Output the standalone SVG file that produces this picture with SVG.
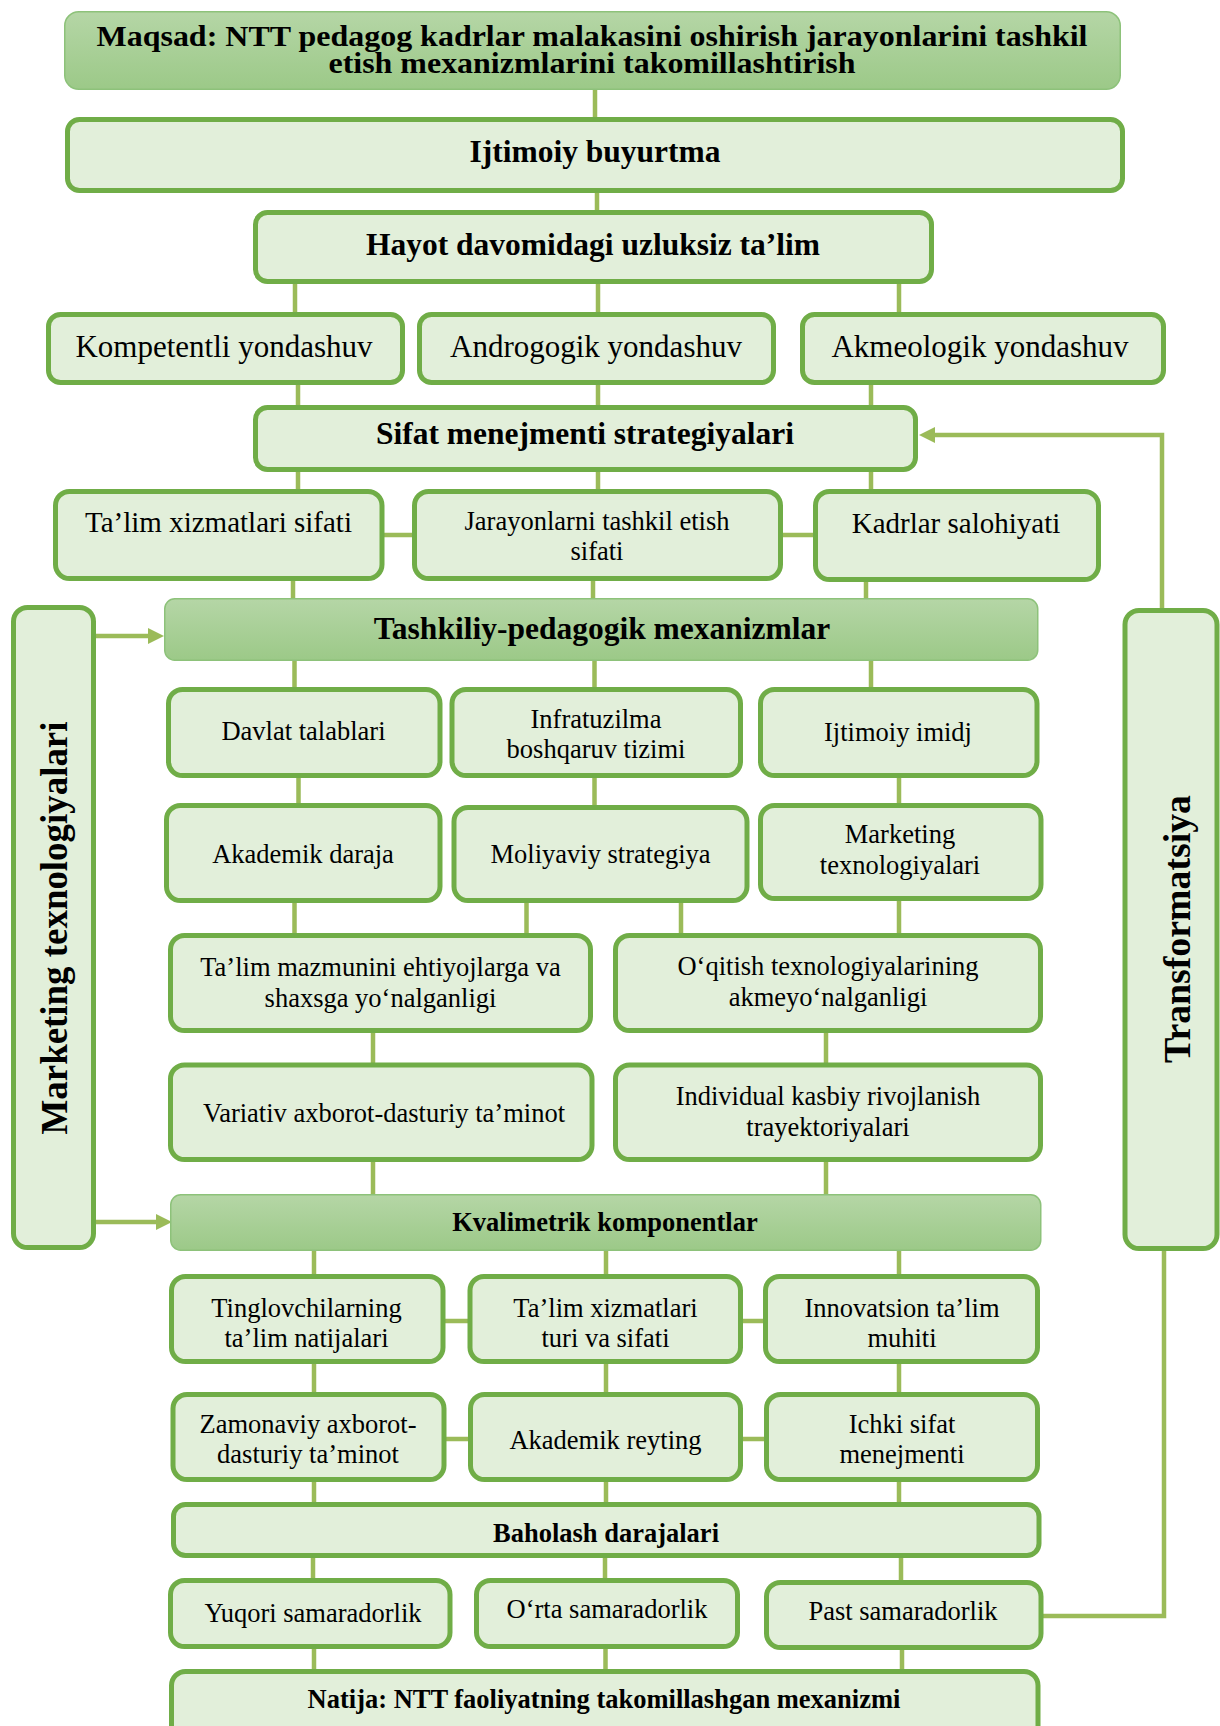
<svg xmlns="http://www.w3.org/2000/svg" width="1220" height="1726" viewBox="0 0 1220 1726">
<defs>
<linearGradient id="gr" x1="0" y1="0" x2="0" y2="1">
<stop offset="0" stop-color="#b5d6a6"/>
<stop offset="1" stop-color="#9cc988"/>
</linearGradient>
<marker id="ah" markerWidth="16" markerHeight="16" refX="10" refY="8" orient="auto" markerUnits="userSpaceOnUse">
<path d="M0,0 L16,8 L0,16 z" fill="#9bbb59"/>
</marker>
<style>
.b{fill:#e2efda;stroke:#70ad47;stroke-width:5}
.g{fill:url(#gr);stroke:#8dc27a;stroke-width:1.5}
.c{stroke:#9bbb59;stroke-width:4.5;fill:none}
text{font-family:"Liberation Serif","Times New Roman",serif;fill:#000;text-anchor:middle}
.tt{font-weight:bold;font-size:30px}
.tb{font-weight:bold;font-size:31.5px}
.tm{font-weight:bold;font-size:26.5px}
.r31{font-size:31px}
.r29{font-size:29px}
.r{font-size:26.5px}
.v{font-weight:bold;font-size:37px}
</style>
</defs>
<g id="connectors">
<path class="c" d="M595,90V117M597,193V210M295,284V312M598,284V312M899,284V312M298,385V405M598,385V405M871,385V405M298,472V489M598,472V489M871,472V489M293,581V598M593,581V598M866,581V598M294.5,661V687M594.5,661V687M871,661V687M298.5,778V803M594.5,778V805M899,778V803M294.5,903V933M526.5,903V933M681,903V933M899,901V933M373,1033V1063M826,1033V1063M373,1162V1194M826,1162V1194M314,1251V1274M606,1251V1274M899,1251V1274M314,1364V1392M606,1364V1392M899,1364V1392M314,1482V1502M606,1482V1502M899,1482V1502M313,1558V1578M605,1558V1578M901,1558V1580M314,1649V1669M605.5,1649V1669M902,1650V1669"/>
<path class="c" d="M384,535H412M783,535H813M445,1321H468M743,1321H763M446,1439H468M743,1439H764"/>
<path class="c" d="M1162,608V435H925" marker-end="url(#ah)"/>
<path class="c" d="M1164,1251V1616H1043"/>
<path class="c" d="M96,636H158" marker-end="url(#ah)"/>
<path class="c" d="M96,1222H166" marker-end="url(#ah)"/>
</g>
<g id="n1"><rect class="g" x="64.75" y="11.75" width="1055.5" height="77.5" rx="14"/>
<text class="tt" x="592" y="46" textLength="991" lengthAdjust="spacingAndGlyphs">Maqsad: NTT pedagog kadrlar malakasini oshirish jarayonlarini tashkil</text>
<text class="tt" x="592" y="73" textLength="527" lengthAdjust="spacingAndGlyphs">etish mexanizmlarini takomillashtirish</text></g>
<g id="n2"><rect class="b" x="67.5" y="119.5" width="1055" height="71" rx="12"/><text class="tb" x="595" y="162">Ijtimoiy buyurtma</text></g>
<g id="n3"><rect class="b" x="255.5" y="212.5" width="676" height="69" rx="12"/><text class="tb" x="593" y="255">Hayot davomidagi uzluksiz ta’lim</text></g>
<g id="n4a"><rect class="b" x="48.5" y="314.5" width="354" height="68" rx="12"/><text class="r31" x="224" y="357">Kompetentli yondashuv</text></g>
<g id="n4b"><rect class="b" x="419.5" y="314.5" width="354" height="68" rx="12"/><text class="r31" x="596" y="357">Androgogik yondashuv</text></g>
<g id="n4c"><rect class="b" x="802.5" y="314.5" width="361" height="68" rx="12"/><text class="r31" x="980" y="357">Akmeologik yondashuv</text></g>
<g id="n5"><rect class="b" x="255.5" y="407.5" width="660" height="62" rx="12"/><text class="tb" x="585" y="444">Sifat menejmenti strategiyalari</text></g>
<g id="n6a"><rect class="b" x="55.5" y="491.5" width="326.5" height="87" rx="14"/><text class="r29" x="218.5" y="532">Ta’lim xizmatlari sifati</text></g>
<g id="n6b"><rect class="b" x="414.5" y="491.5" width="366" height="87" rx="14"/><text class="r" x="597" y="530">Jarayonlarni tashkil etish</text><text class="r" x="597" y="560">sifati</text></g>
<g id="n6c"><rect class="b" x="815.5" y="491.5" width="283" height="88" rx="14"/><text class="r29" x="956" y="533">Kadrlar salohiyati</text></g>
<g id="n7"><rect class="g" x="164.75" y="598.75" width="873" height="61.5" rx="10"/><text class="tb" x="602" y="639">Tashkiliy-pedagogik mexanizmlar</text></g>
<g id="nL"><rect class="b" x="13.5" y="607.5" width="80" height="640" rx="14"/><text class="v" transform="translate(67,928) rotate(-90)" x="0" y="0" textLength="413" lengthAdjust="spacingAndGlyphs">Marketing texnologiyalari</text></g>
<g id="nR"><rect class="b" x="1125" y="610.5" width="92" height="638" rx="14"/><text class="v" transform="translate(1190,929) rotate(-90)" x="0" y="0" textLength="268" lengthAdjust="spacingAndGlyphs">Transformatsiya</text></g>
<g id="n8a"><rect class="b" x="168.5" y="689.5" width="271.5" height="86" rx="14"/><text class="r" x="303.5" y="740">Davlat talablari</text></g>
<g id="n8b"><rect class="b" x="452" y="689.5" width="288.5" height="86" rx="14"/><text class="r" x="596" y="728">Infratuzilma</text><text class="r" x="596" y="758">boshqaruv tizimi</text></g>
<g id="n8c"><rect class="b" x="760.5" y="689.5" width="276.5" height="86" rx="14"/><text class="r" x="898" y="741">Ijtimoiy imidj</text></g>
<g id="n9a"><rect class="b" x="166.5" y="805.5" width="273.5" height="95" rx="14"/><text class="r" x="303" y="863">Akademik daraja</text></g>
<g id="n9b"><rect class="b" x="454" y="807.5" width="293" height="93" rx="14"/><text class="r" x="600.5" y="863">Moliyaviy strategiya</text></g>
<g id="n9c"><rect class="b" x="760.5" y="805.5" width="280.5" height="93" rx="14"/><text class="r" x="900" y="843">Marketing</text><text class="r" x="900" y="874">texnologiyalari</text></g>
<g id="n10a"><rect class="b" x="170.5" y="935.5" width="420" height="95" rx="14"/><text class="r" x="380.5" y="976">Ta’lim mazmunini ehtiyojlarga va</text><text class="r" x="380.5" y="1007">shaxsga yo‘nalganligi</text></g>
<g id="n10b"><rect class="b" x="615.5" y="935.5" width="425" height="95" rx="14"/><text class="r" x="828" y="975">O‘qitish texnologiyalarining</text><text class="r" x="828" y="1006">akmeyo‘nalganligi</text></g>
<g id="n11a"><rect class="b" x="170.5" y="1065" width="421.5" height="94.5" rx="14"/><text class="r" x="384" y="1122">Variativ axborot-dasturiy ta’minot</text></g>
<g id="n11b"><rect class="b" x="615.5" y="1065" width="425" height="94.5" rx="14"/><text class="r" x="828" y="1105">Individual kasbiy rivojlanish</text><text class="r" x="828" y="1136">trayektoriyalari</text></g>
<g id="n12"><rect class="g" x="170.75" y="1194.75" width="870" height="55.5" rx="10"/><text class="tm" x="605" y="1231">Kvalimetrik komponentlar</text></g>
<g id="n13a"><rect class="b" x="171.5" y="1276.5" width="271.5" height="85" rx="14"/><text class="r" x="306.5" y="1317">Tinglovchilarning</text><text class="r" x="306.5" y="1347">ta’lim natijalari</text></g>
<g id="n13b"><rect class="b" x="470" y="1276.5" width="270.5" height="85" rx="14"/><text class="r" x="605.5" y="1317">Ta’lim xizmatlari</text><text class="r" x="605.5" y="1347">turi va sifati</text></g>
<g id="n13c"><rect class="b" x="765.5" y="1276.5" width="272" height="85" rx="14"/><text class="r" x="902" y="1317">Innovatsion ta’lim</text><text class="r" x="902" y="1347">muhiti</text></g>
<g id="n14a"><rect class="b" x="173" y="1394.5" width="271" height="85" rx="14"/><text class="r" x="308" y="1433">Zamonaviy axborot-</text><text class="r" x="308" y="1463">dasturiy ta’minot</text></g>
<g id="n14b"><rect class="b" x="470.5" y="1394.5" width="270" height="85" rx="14"/><text class="r" x="605.5" y="1449">Akademik reyting</text></g>
<g id="n14c"><rect class="b" x="766.5" y="1394.5" width="271" height="85" rx="14"/><text class="r" x="902" y="1433">Ichki sifat</text><text class="r" x="902" y="1463">menejmenti</text></g>
<g id="n15"><rect class="b" x="173.5" y="1504.5" width="865.5" height="51" rx="12"/><text class="tm" x="606" y="1542">Baholash darajalari</text></g>
<g id="n16a"><rect class="b" x="170.5" y="1580.5" width="279.5" height="66" rx="14"/><text class="r" x="313" y="1622">Yuqori samaradorlik</text></g>
<g id="n16b"><rect class="b" x="476.5" y="1580.5" width="261" height="66" rx="14"/><text class="r" x="607" y="1618">O‘rta samaradorlik</text></g>
<g id="n16c"><rect class="b" x="766.5" y="1582.5" width="274.5" height="65" rx="14"/><text class="r" x="903" y="1620">Past samaradorlik</text></g>
<g id="n17"><rect class="b" x="171.5" y="1671.5" width="866.5" height="80" rx="14"/><text class="tm" x="604" y="1708">Natija: NTT faoliyatning takomillashgan mexanizmi</text></g>
</svg>
